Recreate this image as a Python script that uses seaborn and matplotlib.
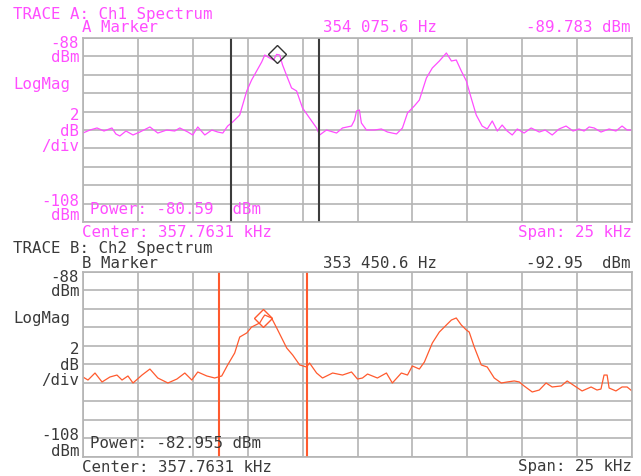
import matplotlib
matplotlib.use("Agg")
import matplotlib.pyplot as plt
import seaborn as sns
import pandas as pd
import numpy as np

# ---------------- data ----------------
freq_a_khz = [345.26, 345.58, 345.90, 346.22, 346.58, 346.76, 346.94, 347.22, 347.54, 347.85,
              348.31, 348.67, 349.08, 349.44, 349.67, 350.04, 350.26, 350.49, 350.81, 351.13,
              351.40, 351.63, 351.85, 352.08, 352.40, 352.72, 352.94, 353.17, 353.40, 353.54,
              353.76, 353.94, 354.08, 354.22, 354.35, 354.58, 354.76, 354.99, 355.26, 355.58,
              355.90, 356.04, 356.35, 356.81, 357.08, 357.49, 357.63, 357.72, 357.85, 357.94,
              358.17, 358.54, 358.85, 359.13, 359.54, 359.81, 360.04, 360.35, 360.58, 360.90,
              361.17, 361.49, 361.81, 362.04, 362.26, 362.49, 362.72, 362.94, 363.17, 363.44,
              363.67, 363.90, 364.13, 364.35, 364.58, 364.81, 365.04, 365.35, 365.67, 366.04,
              366.31, 366.63, 366.94, 367.26, 367.58, 367.85, 368.08, 368.31, 368.54, 368.85,
              369.22, 369.53, 369.81, 370.04, 370.26]
level_a_dbm = [-98.33, -98.00, -97.78, -98.11, -97.78, -98.43, -98.65, -98.11, -98.54, -98.22,
               -97.67, -98.33, -98.00, -98.11, -97.78, -98.22, -98.54, -97.67, -98.54, -98.00,
               -98.22, -98.33, -97.57, -97.13, -96.37, -93.76, -92.57, -91.59, -90.61, -89.85,
               -90.17, -90.39, -89.78, -89.85, -90.93, -92.35, -93.43, -93.76, -95.61, -96.70,
               -97.78, -98.54, -98.00, -98.33, -97.78, -97.57, -96.91, -95.93, -95.83, -97.24,
               -98.00, -98.00, -97.89, -98.22, -98.43, -97.78, -96.15, -95.39, -94.74, -92.35,
               -91.26, -90.50, -89.63, -90.50, -90.39, -91.59, -92.67, -94.52, -96.37, -97.57,
               -97.89, -97.02, -98.11, -97.46, -98.11, -98.54, -97.89, -98.33, -97.78, -98.22,
               -98.00, -98.54, -97.89, -97.57, -98.11, -97.89, -98.11, -97.67, -97.78, -98.22,
               -97.89, -98.11, -97.57, -98.00, -98.00]

freq_b_khz = [345.26, 345.49, 345.81, 346.13, 346.49, 346.81, 347.04, 347.31, 347.54, 347.95,
              348.31, 348.67, 349.13, 349.54, 349.90, 350.22, 350.49, 350.90, 351.26, 351.58,
              351.85, 352.17, 352.40, 352.72, 352.94, 353.31, 353.45, 353.54, 353.85, 354.13,
              354.54, 354.81, 355.13, 355.44, 355.58, 355.90, 356.17, 356.63, 357.08, 357.49,
              357.76, 357.99, 358.22, 358.67, 359.08, 359.35, 359.76, 360.04, 360.26, 360.58,
              360.81, 361.17, 361.49, 361.81, 362.04, 362.26, 362.49, 362.72, 362.85, 363.08,
              363.40, 363.67, 363.99, 364.31, 364.58, 364.90, 365.13, 365.35, 365.72, 366.04,
              366.35, 366.63, 367.04, 367.31, 367.72, 367.99, 368.40, 368.67, 368.85, 368.99,
              369.13, 369.22, 369.53, 369.81, 370.04, 370.26]
level_b_dbm = [-99.35, -99.68, -98.92, -99.89, -99.35, -99.14, -99.68, -99.24, -100.00, -99.14,
               -98.49, -99.46, -100.00, -99.57, -98.92, -99.68, -98.81, -99.24, -99.46, -99.24,
               -98.05, -96.76, -95.03, -94.59, -93.95, -93.51, -92.95, -92.65, -92.97, -94.27,
               -96.22, -96.97, -98.05, -98.27, -97.84, -98.92, -99.46, -98.92, -99.14, -98.81,
               -99.57, -99.46, -99.03, -99.46, -98.92, -100.00, -98.92, -99.14, -98.16, -98.49,
               -97.73, -95.68, -94.49, -93.73, -93.19, -92.97, -93.73, -94.27, -94.49, -96.11,
               -98.05, -98.27, -99.46, -100.00, -99.89, -99.78, -99.89, -100.32, -100.97, -100.76,
               -100.00, -100.43, -100.32, -99.78, -100.43, -100.86, -100.43, -100.76, -100.65, -99.14,
               -99.14, -100.54, -100.86, -100.43, -100.43, -100.86]

marker_a = (354.0756, -89.783)
marker_b = (353.4506, -92.95)
band_a = [351.99, 355.99]
band_b = [351.45, 355.45]

center_khz = 357.7631
span_khz = 25.0
ref_top = -88
ref_bottom = -108

# ---------------- styling ----------------
sns.set_theme(style="white")
plt.rcParams['font.family'] = ['DejaVu Sans Mono', 'DejaVu Sans']

W, H = 641, 476
fig = plt.figure(figsize=(W / 100, H / 100), dpi=100)

col_a = "#ff4dff"
col_b = "#ff5a2e"
txt_b = "#3a3a3a"
grid_col = "#b4b4b4"
FS = 11.3


def px(x, y):
    return x / W, 1 - y / H


def setup(ax):
    ax.set_xlim(center_khz - span_khz / 2, center_khz + span_khz / 2)
    ax.set_ylim(ref_bottom, ref_top)
    ax.set_xticks(np.linspace(center_khz - span_khz / 2, center_khz + span_khz / 2, 11))
    ax.set_yticks(np.linspace(ref_bottom, ref_top, 11))
    ax.set_xticklabels([])
    ax.set_yticklabels([])
    ax.tick_params(length=0)
    ax.grid(True, color=grid_col, linewidth=1.2)
    for s in ax.spines.values():
        s.set_color(grid_col)
        s.set_linewidth(1.2)
    ax.set_xlabel("")
    ax.set_ylabel("")


# top panel
ax1 = fig.add_axes([83 / W, 1 - 222 / H, (632 - 83) / W, (222 - 38) / H])
setup(ax1)
df_a = pd.DataFrame({"f": freq_a_khz, "p": level_a_dbm})
sns.lineplot(data=df_a, x="f", y="p", ax=ax1, color=col_a, linewidth=0.9)
for b in band_a:
    ax1.axvline(b, color="#3c3c3c", linewidth=1.5)
ax1.plot([marker_a[0]], [marker_a[1]], marker="D", markersize=9, markerfacecolor="none",
         markeredgecolor="#333333", markeredgewidth=1.0, linestyle="none")
setup(ax1)

# bottom panel
ax2 = fig.add_axes([83 / W, 1 - 457 / H, (632 - 83) / W, (457 - 272) / H])
setup(ax2)
df_b = pd.DataFrame({"f": freq_b_khz, "p": level_b_dbm})
sns.lineplot(data=df_b, x="f", y="p", ax=ax2, color=col_b, linewidth=0.9)
for b in band_b:
    ax2.axvline(b, color=col_b, linewidth=1.5)
ax2.plot([marker_b[0]], [marker_b[1]], marker="D", markersize=9, markerfacecolor="none",
         markeredgecolor=col_b, markeredgewidth=1.0, linestyle="none")
setup(ax2)


def T(x, y, s, color, ha="left"):
    fig.text(*px(x, y), s, color=color, ha=ha, va="center", fontsize=FS)


def panel_text(dy, color, title, mk, mfreq, mval, power):
    T(13, 14 + dy, title, color)
    T(82, 28 + dy, mk, color)
    T(323, 28 + dy, mfreq, color)
    T(631, 28 + dy, mval, color, ha="right")
    T(79, 43 + dy, "-88", color, ha="right")
    T(79, 57 + dy, "dBm", color, ha="right")
    T(13, 84 + dy, "LogMag", color)
    T(79, 115 + dy, "2", color, ha="right")
    T(79, 131 + dy, "dB", color, ha="right")
    T(79, 146 + dy, "/div", color, ha="right")
    T(79, 201 + dy, "-108", color, ha="right")
    T(79, 216 + dy, "dBm", color, ha="right")
    T(90, 209 + dy, power, color)
    T(82, 232 + dy, "Center: 357.7631 kHz", color)
    T(632, 232 + dy, "Span: 25 kHz", color, ha="right")


panel_text(0, col_a, "TRACE A: Ch1 Spectrum", "A Marker", "354 075.6 Hz", "-89.783 dBm",
           "Power: -80.59  dBm")
panel_text(235, txt_b, "TRACE B: Ch2 Spectrum", "B Marker", "353 450.6 Hz", "-92.95  dBm",
           "Power: -82.955 dBm")

fig.savefig("out.png", dpi=100)
